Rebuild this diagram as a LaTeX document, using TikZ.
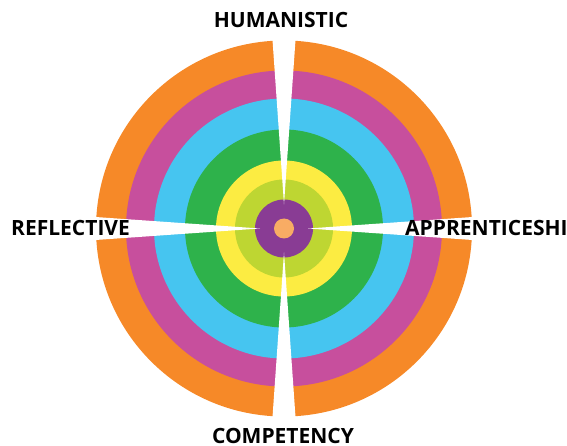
\documentclass[tikz,border=0pt]{standalone}
\usepackage{fontspec}
\setmainfont{Open Sans}
\usetikzlibrary{calc}
\definecolor{cOrange}{RGB}{246,137,40}
\definecolor{cMagenta}{RGB}{199,79,157}
\definecolor{cBlue}{RGB}{70,197,240}
\definecolor{cGreen}{RGB}{46,178,75}
\definecolor{cYellow}{RGB}{252,236,66}
\definecolor{cLime}{RGB}{190,214,50}
\definecolor{cPurple}{RGB}{137,60,148}
\definecolor{cCore}{RGB}{248,172,100}
\begin{document}
\begin{tikzpicture}[x=1pt,y=-1pt,
  ring/.style={fill=#1,draw=none},
  gap/.style={fill=white,draw=none},
  lbl/.style={font=\fontsize{21}{21}\selectfont\bfseries,text=black,inner sep=0pt,anchor=base}]
\useasboundingbox (0,0) rectangle (567,446);
\coordinate (c) at (284,228.5);
\fill[ring=cOrange]  (c) circle (188);
\fill[ring=cMagenta] (c) circle (158);
\fill[ring=cBlue]    (c) circle (130);
\fill[ring=cGreen]   (c) circle (99);
\fill[ring=cYellow]  (c) circle (68);
\fill[ring=cLime]    (c) circle (49);
\fill[ring=cPurple]  (c) circle (29);
\fill[ring=cCore]    (c) circle (10);
% gaps
\foreach \a in {90,180,270,0}{
  \fill[gap] ($(c)+(\a:24)$) -- ($(c)+(\a:200)+(\a+90:12.3)$) -- ($(c)+(\a:200)+(\a-90:12.3)$) -- cycle;
}
\node[lbl] (hum) at (281,28) {HUMANISTIC};
\node[lbl] (com) at (283,443) {COMPETENCY};
\node[lbl,anchor=base west] (ref) at (11,236) {REFLECTIVE};
\node[lbl,anchor=base west] (app) at (405,236) {APPRENTICESHI};
\end{tikzpicture}
\end{document}
